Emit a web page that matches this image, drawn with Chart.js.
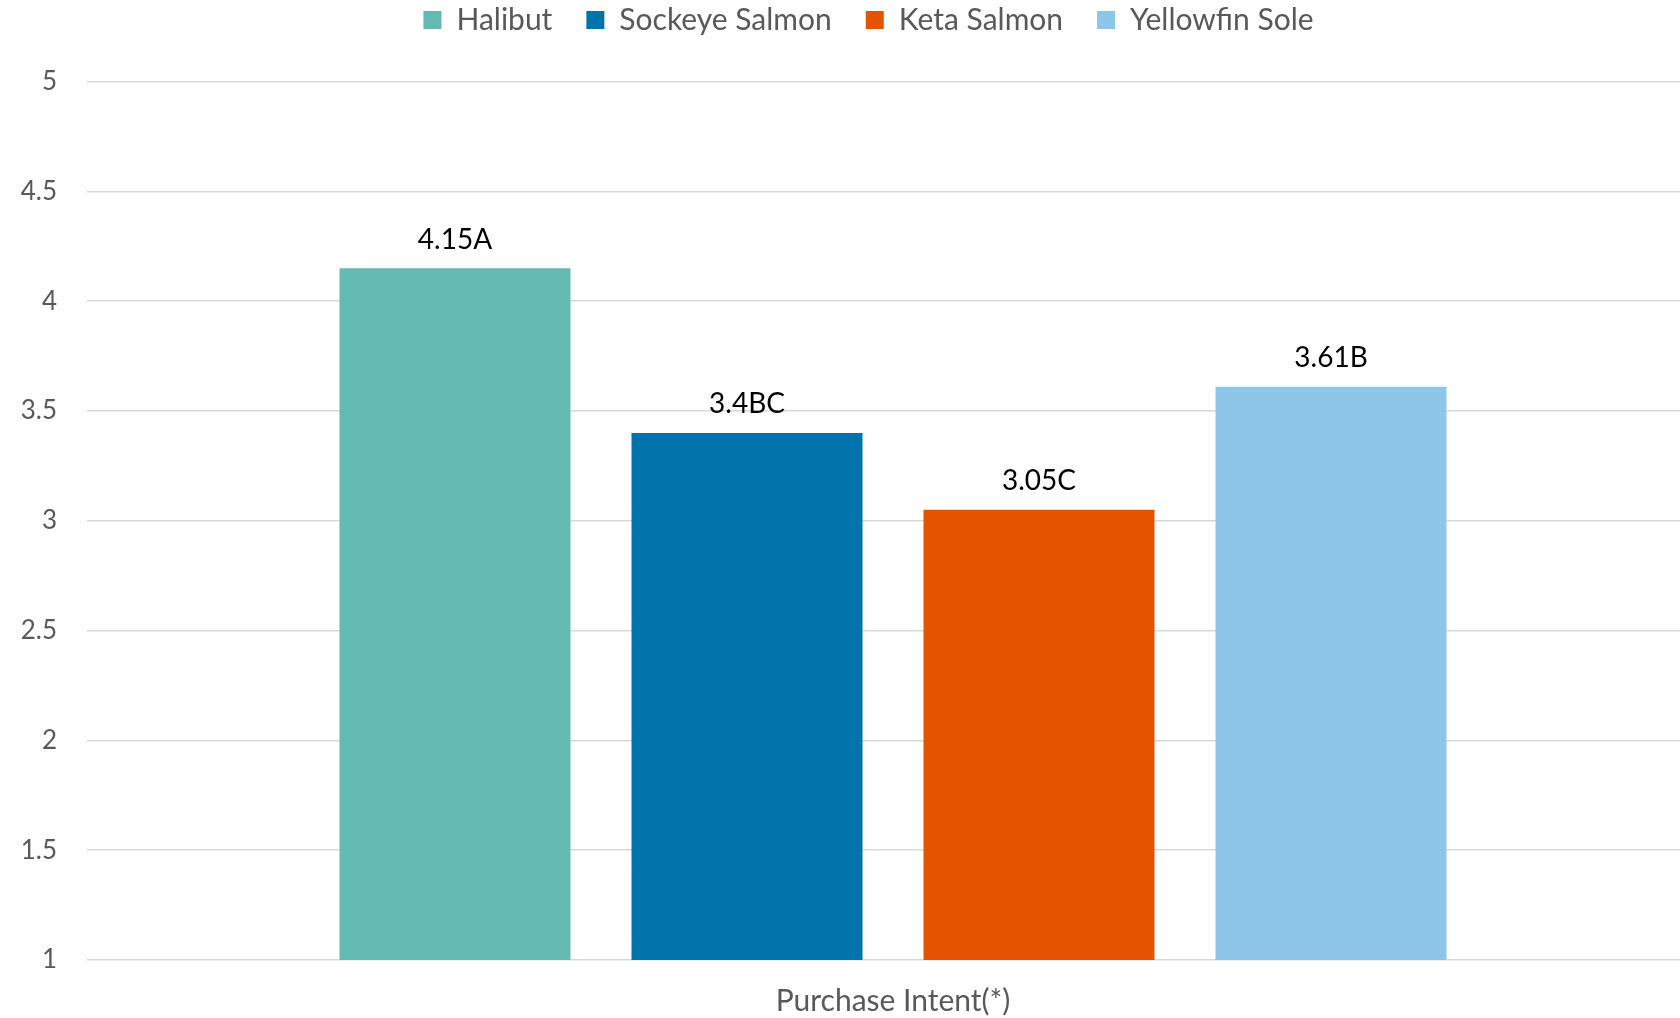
<!DOCTYPE html>
<html>
<head>
<meta charset="utf-8">
<title>Purchase Intent</title>
<script src="https://cdn.jsdelivr.net/npm/chart.js@4.4.1/dist/chart.umd.min.js"></script>
<style>
  html, body { margin: 0; padding: 0; background: #ffffff; overflow: hidden; }
  #wrap { width: 1699px; height: 1018px; position: relative; }
</style>
</head>
<body>
<div id="wrap"><canvas id="chart"></canvas></div>
<script>
// Data
const categories = ['Purchase Intent(*)'];
const seriesNames = ['Halibut', 'Sockeye Salmon', 'Keta Salmon', 'Yellowfin Sole'];
const halibut = [4.15];
const sockeyeSalmon = [3.4];
const ketaSalmon = [3.05];
const yellowfinSole = [3.61];
const groupLetters = ['A', 'BC', 'C', 'B'];
const yTickLabels = ['1', '1.5', '2', '2.5', '3', '3.5', '4', '4.5', '5'];
const seriesColors = ['#64b9b0', '#0074ab', '#e35300', '#8ec6e9'];

const seriesValues = [halibut, sockeyeSalmon, ketaSalmon, yellowfinSole];
const FONT = 'Lato';

// Legend placement: extra room below the legend row, and a horizontal
// offset so the row is centred over the whole figure including the axis gutter
const legendPlacement = {
  id: 'legendPlacement',
  beforeLayout(chart, args, opts) {
    const lg = chart.legend;
    if (lg && !lg._gapWrapped) {
      const fit = lg.fit;
      lg.fit = function () {
        fit.call(this);
        this.height += opts.gapBelow || 0;
      };
      lg._gapWrapped = true;
    }
  },
  afterLayout(chart, args, opts) {
    const lg = chart.legend;
    if (lg) {
      lg.left += opts.shiftX || 0;
      lg.right += opts.shiftX || 0;
    }
  }
};

// Value + significance-letter labels above each bar
const barValueLabels = {
  id: 'barValueLabels',
  afterDatasetsDraw(chart, args, opts) {
    const ctx = chart.ctx;
    ctx.save();
    ctx.font = opts.font;
    ctx.fillStyle = opts.color;
    ctx.textAlign = 'center';
    ctx.textBaseline = 'alphabetic';
    chart.data.datasets.forEach((ds, i) => {
      const meta = chart.getDatasetMeta(i);
      if (meta.hidden) return;
      meta.data.forEach((bar, j) => {
        const text = String(ds.data[j]) + groupLetters[i];
        ctx.fillText(text, bar.x, bar.y - opts.offset);
      });
    });
    ctx.restore();
  }
};

const datasets = seriesNames.map((name, i) => ({
  label: name,
  data: seriesValues[i],
  backgroundColor: seriesColors[i],
  borderWidth: 0,
  categoryPercentage: 0.7246,
  barPercentage: 0.791
}));

new Chart(document.getElementById('chart'), {
  type: 'bar',
  data: { labels: categories, datasets },
  plugins: [legendPlacement, barValueLabels],
  options: {
    responsive: true,
    maintainAspectRatio: false,
    animation: false,
    layout: { padding: { top: -29, right: 0, left: 0, bottom: -24 } },
    plugins: {
      legend: {
        position: 'top',
        labels: {
          color: '#595959',
          boxWidth: 18,
          boxHeight: 18,
          padding: 34,
          font: { family: FONT, size: 30 }
        }
      },
      tooltip: { enabled: false },
      legendPlacement: { gapBelow: 36.5, shiftX: 19 },
      barValueLabels: { font: '28px ' + FONT, color: '#000000', offset: 19.5 }
    },
    scales: {
      x: {
        grid: { display: false, drawTicks: false },
        border: { display: false },
        ticks: { color: '#595959', padding: 23, font: { family: FONT, size: 30 } }
      },
      y: {
        min: 1,
        max: 5,
        border: { display: false },
        grid: { color: '#d9d9d9', lineWidth: 1.5, drawTicks: false },
        ticks: {
          stepSize: 0.5,
          padding: 30,
          color: '#595959',
          font: { family: FONT, size: 26 },
          callback: (value, index) => yTickLabels[index]
        },
        afterFit(scale) { scale.width = 87; }
      }
    }
  }
});
</script>
</body>
</html>
